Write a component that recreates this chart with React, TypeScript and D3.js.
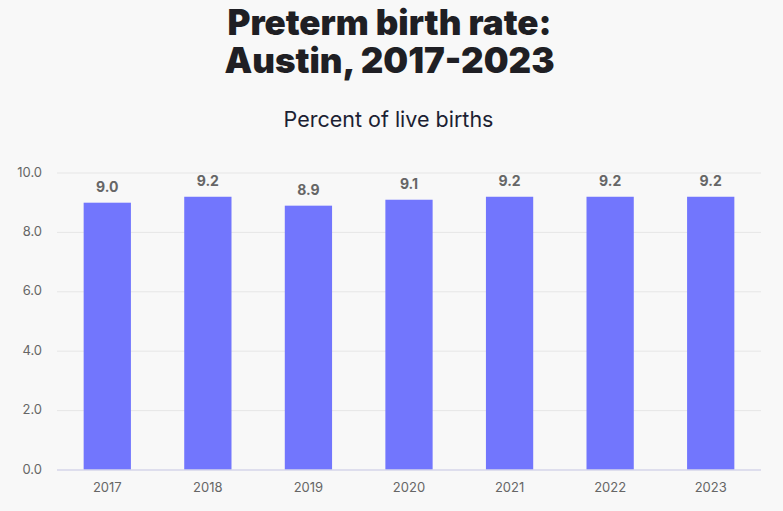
import * as d3 from "d3";

const years = ["2017", "2018", "2019", "2020", "2021", "2022", "2023"];
const rates = [9.0, 9.2, 8.9, 9.1, 9.2, 9.2, 9.2];
const yTicks = [0, 2, 4, 6, 8, 10];

const WIDTH = 783;
const HEIGHT = 511;
const MARGIN = {top: 173, right: 22, bottom: 41, left: 57};

export default function App() {
    const boundsWidth = WIDTH - MARGIN.left - MARGIN.right;
    const boundsHeight = HEIGHT - MARGIN.top - MARGIN.bottom;

    const xScale = d3
        .scaleBand()
        .domain(years)
        .range([0, boundsWidth])
        .paddingInner(0.53)
        .paddingOuter(0.265);

    const yScale = d3.scaleLinear().domain([0, 10]).range([boundsHeight, 0]);

    return (
        <svg
            width={WIDTH}
            height={HEIGHT}
            style={{position: "absolute", left: 0, top: 0, background: "#f8f8f8"}}
        >
            <rect width={WIDTH} height={HEIGHT} fill="#f8f8f8"/>
            <g fontFamily="Inter, 'Noto Sans', sans-serif" textAnchor="middle">
                <text x={389.5} y={35} fontSize={35} fontWeight={900} fill="#1f1f24" letterSpacing={0}>
                    Preterm birth rate:
                </text>
                <text x={389.5} y={73} fontSize={35} fontWeight={900} fill="#1f1f24" letterSpacing={0}>
                    Austin, 2017-2023
                </text>
                <text x={388.5} y={127} fontSize={21.5} fontWeight={400} fill="#1c1f33">
                    Percent of live births
                </text>
            </g>
            <g transform={`translate(${MARGIN.left},${MARGIN.top})`} fontFamily="Inter, 'Noto Sans', sans-serif">
                {yTicks.map((t) => (
                    <g key={t}>
                        {t > 0 && (
                            <line x1={0} x2={boundsWidth} y1={yScale(t)} y2={yScale(t)} stroke="#e6e6e6" strokeWidth={1}/>
                        )}
                        <text
                            x={-15}
                            y={yScale(t)}
                            textAnchor="end"
                            dominantBaseline="middle"
                            fontSize={13}
                            fill="#666"
                        >
                            {t.toFixed(1)}
                        </text>
                    </g>
                ))}
                {years.map((year, i) => {
                    const x = xScale(year) ?? 0;
                    return (
                        <g key={year}>
                            <rect
                                x={x}
                                y={yScale(rates[i])}
                                width={xScale.bandwidth()}
                                height={boundsHeight - yScale(rates[i])}
                                fill="#7276fd"
                            />
                            <text
                                x={x + xScale.bandwidth() / 2}
                                y={yScale(rates[i]) - 11}
                                textAnchor="middle"
                                fontSize={14}
                                fontWeight={700}
                                fill="#666"
                            >
                                {rates[i].toFixed(1)}
                            </text>
                            <text
                                x={x + xScale.bandwidth() / 2}
                                y={boundsHeight + 22}
                                textAnchor="middle"
                                fontSize={13}
                                fill="#666"
                            >
                                {year}
                            </text>
                        </g>
                    );
                })}
                <line x1={0} x2={boundsWidth} y1={boundsHeight} y2={boundsHeight} stroke="#d6d6ea" strokeWidth={1.5}/>
            </g>
        </svg>
    );
}
